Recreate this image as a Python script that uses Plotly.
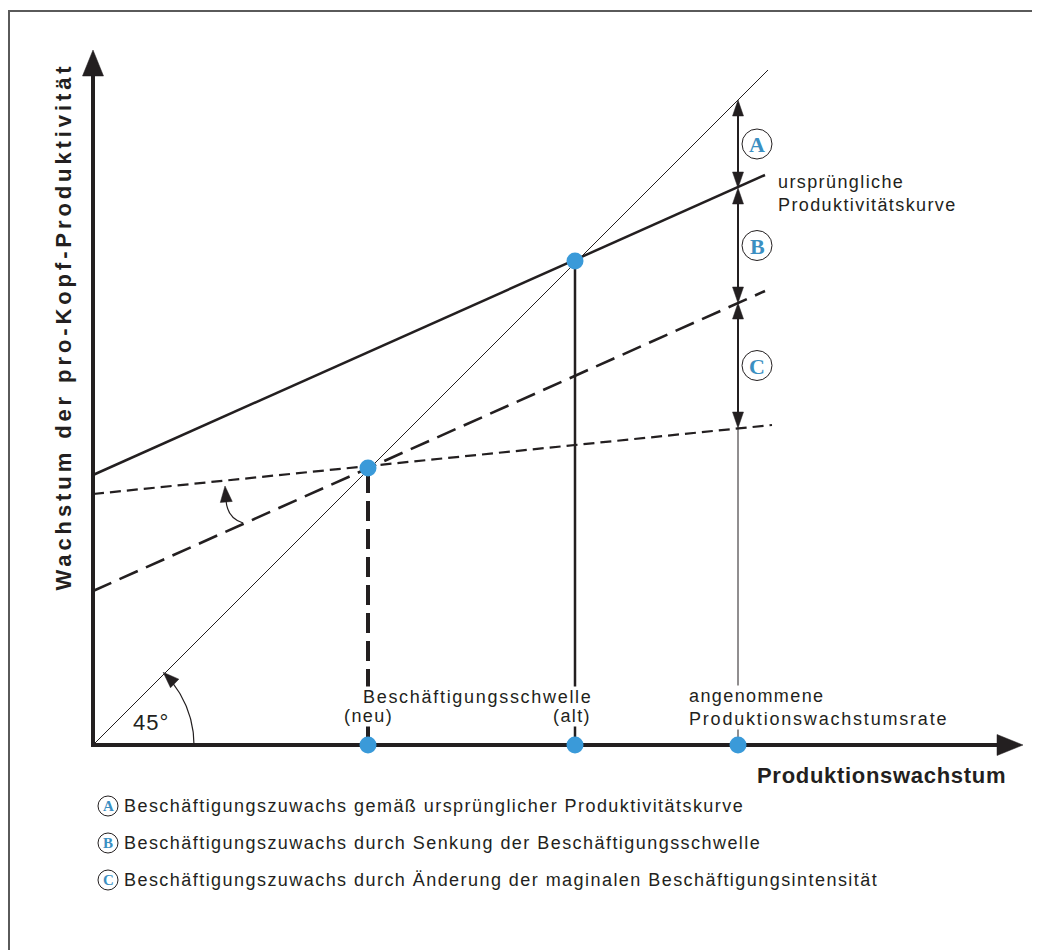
import numpy as np
import plotly.graph_objects as go

# ---------------- data (drawing units: 1 unit = 100 px) ----------------
# marked abscissae: Beschäftigungsschwelle (neu), (alt), angenommene Produktionswachstumsrate
threshold_names = ["(neu)", "(alt)", "Rate"]
threshold_x = [2.75, 4.82, 6.45]
# heights of the two threshold intersections (neu, alt)
threshold_y = [2.77, 4.84]

# straight lines: 45°-Linie, ursprüngliche Kurve, gesenkte Schwelle, geänderte Intensität
line_names = ["45°", "ursprünglich", "gesenkt", "flacher"]
line_x0 = [0.0, 0.0, 0.0, 0.0]
line_x1 = [6.75, 6.72, 6.72, 6.79]
line_y0 = [0.0, 2.70, 1.54, 2.51]
line_y1 = [6.75, 5.70, 4.54, 3.20]

# levels of the double arrows at the assumed growth rate (top to bottom)
gap_levels = [6.45, 5.57, 4.42, 3.17]
gap_letters = ["A", "B", "C"]

legend_letters = ["A", "B", "C"]
legend_texts = [
    "Beschäftigungszuwachs gemäß ursprünglicher Produktivitätskurve",
    "Beschäftigungszuwachs durch Senkung der Beschäftigungsschwelle",
    "Beschäftigungszuwachs durch Änderung der maginalen Beschäftigungsintensität",
]

x_axis_end = 9.30
y_axis_end = 6.95

# ---------------- styling ----------------
INK = "#231f20"
BLUE = "#3a9ad9"
LETTER = "#3b8fc2"
FONT = "Liberation Sans, Arial, sans-serif"
SERIF = "Liberation Serif, Times New Roman, serif"
PX = 0.01  # one pixel in drawing units
BODY = 8   # page margin of the html body (px)


def spaced(txt, ls):
    return f"<span style='letter-spacing:{ls}px'>{txt}</span>"


fig = go.Figure()
shapes = []
annotations = []


def head(tip, direction, length, half):
    tx, ty = tip
    dx, dy = direction
    n = (dx * dx + dy * dy) ** 0.5
    dx, dy = dx / n, dy / n
    bx, by = tx - dx * length, ty - dy * length
    px_, py_ = -dy, dx
    return dict(
        type="path",
        path=f"M {tx},{ty} L {bx + px_ * half},{by + py_ * half} L {bx - px_ * half},{by - py_ * half} Z",
        xref="x", yref="y", fillcolor=INK, line=dict(color=INK, width=0.5), layer="above",
    )


def seg(x, y, width, dash="solid", color=INK):
    fig.add_trace(go.Scatter(x=x, y=y, mode="lines", hoverinfo="skip", showlegend=False,
                             line=dict(color=color, width=width, dash=dash)))


# frame (left and top edge only visible)
shapes.append(dict(type="rect", xref="paper", yref="paper",
                   x0=(9 - BODY) / 1040, x1=1.05, y0=-0.05, y1=1 - (11 - BODY) / 950,
                   line=dict(color="#5a5a5a", width=2), layer="below"))

# axes
seg([-2 * PX, x_axis_end - 22 * PX], [0, 0], 4)
seg([0, 0], [-2 * PX, y_axis_end - 22 * PX], 4)
shapes.append(head((x_axis_end, 0), (1, 0), 26 * PX, 10.5 * PX))
shapes.append(head((0, y_axis_end), (0, 1), 26 * PX, 10.5 * PX))

# straight lines
styles = [(1, "solid"), (2.5, "solid"), (2.6, "20px,9px"), (2.2, "11px,6px")]
for i, (w, d) in enumerate(styles):
    seg([line_x0[i], line_x1[i]], [line_y0[i], line_y1[i]], w, d)

# verticals at the thresholds
seg([threshold_x[0], threshold_x[0]], [0, threshold_y[0]], 4, "20px,8px")
seg([threshold_x[1], threshold_x[1]], [0, threshold_y[1]], 2.5)
seg([threshold_x[2], threshold_x[2]], [0, gap_levels[-1]], 1)

# double arrows A, B, C
xr = threshold_x[2]
for i in range(3):
    top, bot = gap_levels[i], gap_levels[i + 1]
    seg([xr, xr], [top - 10 * PX, bot + 10 * PX], 2)
    shapes.append(head((xr, top), (0, 1), 16 * PX, 5.5 * PX))
    shapes.append(head((xr, bot), (0, -1), 16 * PX, 5.5 * PX))
    cy = (top + bot) / 2
    cx = xr + 19 * PX
    shapes.append(dict(type="circle", xref="x", yref="y",
                       x0=cx - 15 * PX, x1=cx + 15 * PX, y0=cy - 15 * PX, y1=cy + 15 * PX,
                       line=dict(color=INK, width=1), fillcolor="white", layer="above"))
    annotations.append(dict(x=cx, y=cy - 0.5 * PX, xref="x", yref="y", text=f"<b>{gap_letters[i]}</b>",
                            showarrow=False, font=dict(family=SERIF, size=22, color=LETTER),
                            xanchor="center", yanchor="middle"))

# 45° arc with arrow
ang = np.linspace(0, np.radians(38), 40)
R = 101 * PX
seg(list(R * np.cos(ang)), list(R * np.sin(ang)), 1.2)
tip_a = np.radians(46)
shapes.append(head((R * np.cos(tip_a), R * np.sin(tip_a)), (-np.sin(tip_a), np.cos(tip_a)), 16 * PX, 6 * PX))

# small rotation arrow between dashed lines
shapes.append(dict(type="path", xref="x", yref="y",
                   path=f"M {1.50},{2.22} Q {1.34},{2.27} {1.33},{2.45}",
                   line=dict(color=INK, width=1.2), layer="above"))
shapes.append(head((1.32, 2.59), (-0.08, 1), 16 * PX, 6 * PX))

# markers
fig.add_trace(go.Scatter(x=threshold_x[:2] + threshold_x, y=threshold_y + [0, 0, 0],
                         mode="markers", hoverinfo="skip", showlegend=False,
                         marker=dict(color=BLUE, size=17, line=dict(width=0))))

# texts
lab = dict(family=FONT, size=18, color=INK)
LS = 1.4
annotations += [
    dict(x=threshold_x[0] - 6 * PX, y=0.48, text=spaced("Beschäftigungsschwelle", 1.7), xanchor="left",
         yanchor="middle", font=lab, bgcolor="white", borderpad=0),
    dict(x=threshold_x[0], y=0.29, text=spaced("(neu)", LS), xanchor="center", yanchor="middle", font=lab,
         bgcolor="white", borderpad=0),
    dict(x=threshold_x[1] - 3 * PX, y=0.29, text=spaced("(alt)", LS), xanchor="center", yanchor="middle",
         font=lab, bgcolor="white", borderpad=0),
    dict(x=threshold_x[2] - 50 * PX, y=0.375,
         text=spaced("angenommene", LS) + "<br>" + spaced("Produktionswachstumsrate", 1.8),
         xanchor="left", yanchor="middle", align="left", font=lab, bgcolor="white", borderpad=0),
    dict(x=6.83, y=5.515, text=spaced("ursprüngliche", LS) + "<br>" + spaced("Produktivitätskurve", LS),
         xanchor="left", yanchor="middle", align="left", font=lab),
    dict(x=0.58, y=0.23, text=spaced("45°", 1), xanchor="center", yanchor="middle",
         font=dict(family=FONT, size=22, color=INK)),
    dict(x=9.15, y=-0.30, text="<b>" + spaced("Produktionswachstum", 0.7) + "</b>", xanchor="right",
         yanchor="middle", font=dict(family=FONT, size=22, color=INK)),
    dict(x=-0.305, y=4.18, text="<b>" + spaced("Wachstum der pro-Kopf-Produktivität", 3.9) + "</b>",
         textangle=-90, xanchor="center", yanchor="middle", font=dict(family=FONT, size=22, color=INK)),
]
for a in annotations:
    a.setdefault("xref", "x")
    a.setdefault("yref", "y")
    a.setdefault("showarrow", False)

# legend rows
for i, (ltr, txt) in enumerate(zip(legend_letters, legend_texts)):
    cy = -0.61 - 0.37 * i
    cx = 0.15
    shapes.append(dict(type="circle", xref="x", yref="y",
                       x0=cx - 10 * PX, x1=cx + 10 * PX, y0=cy - 10 * PX, y1=cy + 10 * PX,
                       line=dict(color=INK, width=1), fillcolor="white"))
    annotations.append(dict(x=cx, y=cy, xref="x", yref="y", text=f"<b>{ltr}</b>", showarrow=False,
                            font=dict(family=SERIF, size=15, color=LETTER), xanchor="center", yanchor="middle"))
    annotations.append(dict(x=0.285, y=cy, xref="x", yref="y", text=spaced(txt, 1.45), showarrow=False,
                            font=dict(family=FONT, size=18, color=INK), xanchor="left", yanchor="middle"))

# map: page pixel = BODY + figure pixel; origin of the drawing at page pixel (93, 745)
x_lo = -(93 - BODY) * PX
y_hi = (745 - BODY) * PX
fig.update_layout(
    width=1040, height=950, autosize=False,
    margin=dict(l=0, r=0, t=0, b=0),
    paper_bgcolor="white", plot_bgcolor="white",
    xaxis=dict(range=[x_lo, x_lo + 1040 * PX], visible=False, fixedrange=True),
    yaxis=dict(range=[y_hi - 950 * PX, y_hi], visible=False, fixedrange=True),
    shapes=shapes, annotations=annotations, showlegend=False,
)
fig.write_html("out.html", config={"displayModeBar": False})
